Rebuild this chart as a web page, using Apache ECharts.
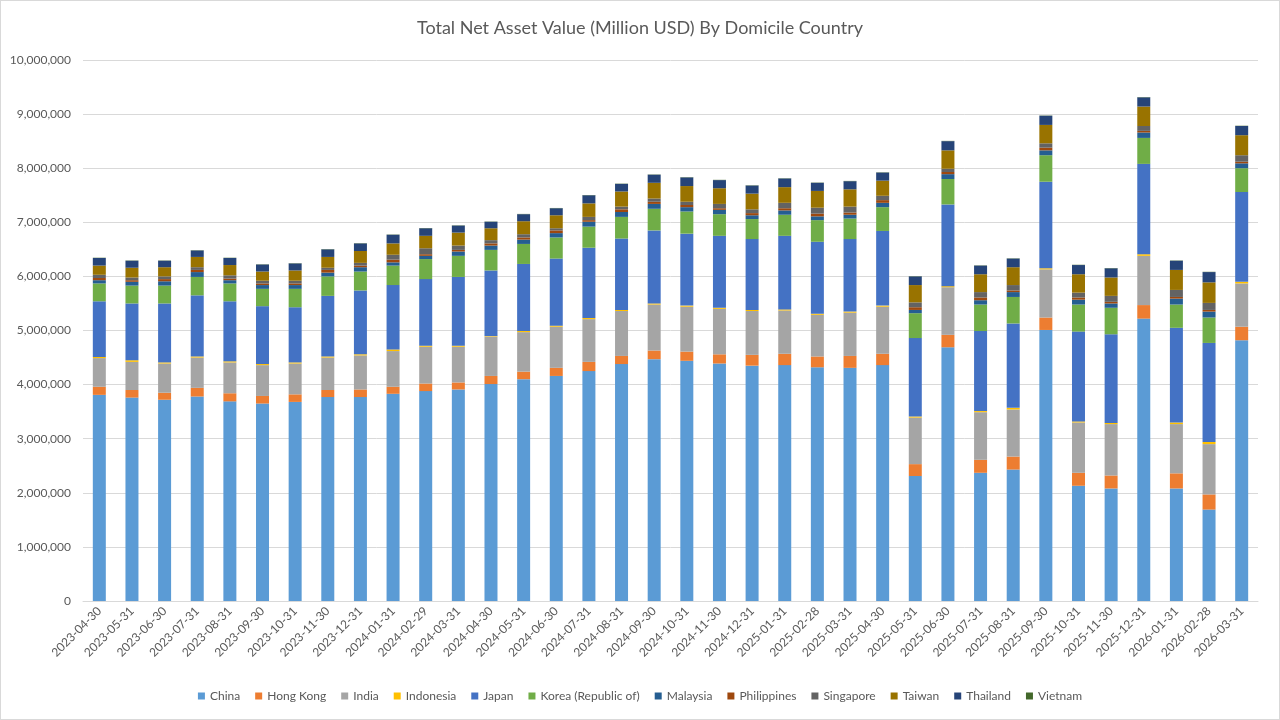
<!DOCTYPE html>
<html>
<head>
<meta charset="utf-8">
<title>Total Net Asset Value By Domicile Country</title>
<script src="https://cdn.jsdelivr.net/npm/echarts@6/dist/echarts.min.js"></script>
<style>
  html, body { margin: 0; padding: 0; background: #fff; }
  #main { width: 1278px; height: 718px; border: 1px solid #d9d9d9; }
</style>
</head>
<body>
<div id="main"></div>
<script>
var dates = ['2023-04-30', '2023-05-31', '2023-06-30', '2023-07-31', '2023-08-31', '2023-09-30',
  '2023-10-31', '2023-11-30', '2023-12-31', '2024-01-31', '2024-02-29', '2024-03-31',
  '2024-04-30', '2024-05-31', '2024-06-30', '2024-07-31', '2024-08-31', '2024-09-30',
  '2024-10-31', '2024-11-30', '2024-12-31', '2025-01-31', '2025-02-28', '2025-03-31',
  '2025-04-30', '2025-05-31', '2025-06-30', '2025-07-31', '2025-08-31', '2025-09-30',
  '2025-10-31', '2025-11-30', '2025-12-31', '2026-01-31', '2026-02-28', '2026-03-31']

var china = [3810000, 3760000, 3720000, 3780000, 3690000, 3650000, 3680000, 3770000, 3770000, 3830000, 3880000, 3910000,
  4010000, 4100000, 4160000, 4250000, 4380000, 4470000, 4440000, 4390000, 4350000, 4360000, 4320000, 4310000,
  4360000, 2310000, 4690000, 2370000, 2430000, 5010000, 2130000, 2080000, 5220000, 2080000, 1690000, 4820000]
var hongKong = [150000, 140000, 130000, 160000, 150000, 140000, 140000, 130000, 140000, 130000, 140000, 130000,
  150000, 140000, 150000, 170000, 150000, 160000, 170000, 170000, 200000, 210000, 200000, 220000,
  210000, 220000, 230000, 240000, 240000, 230000, 240000, 240000, 250000, 280000, 280000, 250000]
var india = [530000, 520000, 540000, 560000, 570000, 570000, 570000, 600000, 630000, 660000, 680000, 660000,
  730000, 730000, 760000, 790000, 830000, 850000, 830000, 840000, 810000, 800000, 770000, 800000,
  870000, 860000, 880000, 880000, 870000, 890000, 930000, 950000, 910000, 910000, 930000, 800000]
var indonesia = [20000, 30000, 20000, 20000, 20000, 20000, 20000, 20000, 20000, 30000, 20000, 20000,
  10000, 20000, 20000, 20000, 20000, 20000, 20000, 20000, 20000, 20000, 20000, 20000,
  20000, 20000, 20000, 20000, 30000, 20000, 20000, 20000, 30000, 30000, 40000, 30000]
var japan = [1030000, 1050000, 1090000, 1130000, 1110000, 1070000, 1020000, 1120000, 1180000, 1190000, 1230000, 1270000,
  1210000, 1240000, 1240000, 1300000, 1320000, 1350000, 1330000, 1330000, 1310000, 1360000, 1330000, 1340000,
  1380000, 1450000, 1510000, 1480000, 1560000, 1600000, 1660000, 1640000, 1670000, 1750000, 1830000, 1660000]
var korea = [330000, 330000, 330000, 340000, 330000, 320000, 340000, 360000, 350000, 360000, 370000, 390000,
  380000, 370000, 390000, 390000, 400000, 400000, 410000, 400000, 370000, 390000, 400000, 380000,
  440000, 460000, 470000, 490000, 490000, 490000, 500000, 490000, 480000, 430000, 470000, 440000]
var malaysia = [60000, 70000, 80000, 90000, 60000, 70000, 70000, 70000, 80000, 60000, 60000, 80000,
  80000, 80000, 80000, 90000, 90000, 90000, 80000, 80000, 70000, 80000, 70000, 70000,
  80000, 60000, 90000, 80000, 90000, 90000, 90000, 80000, 100000, 110000, 110000, 90000]
var philippines = [40000, 30000, 40000, 40000, 30000, 30000, 30000, 50000, 30000, 50000, 30000, 30000,
  40000, 40000, 50000, 30000, 50000, 40000, 40000, 30000, 40000, 40000, 50000, 40000,
  50000, 50000, 40000, 50000, 30000, 50000, 40000, 30000, 30000, 30000, 30000, 30000]
var singapore = [60000, 50000, 50000, 50000, 60000, 50000, 50000, 40000, 50000, 90000, 110000, 80000,
  60000, 60000, 40000, 60000, 50000, 60000, 60000, 80000, 70000, 100000, 110000, 110000,
  80000, 90000, 60000, 100000, 100000, 80000, 90000, 110000, 90000, 130000, 130000, 120000]
var taiwan = [170000, 180000, 170000, 190000, 190000, 170000, 190000, 200000, 220000, 210000, 230000, 240000,
  220000, 240000, 240000, 250000, 280000, 290000, 290000, 290000, 290000, 290000, 310000, 320000,
  280000, 320000, 340000, 330000, 330000, 340000, 340000, 340000, 360000, 370000, 380000, 370000]
var thailand = [140000, 130000, 120000, 120000, 130000, 130000, 130000, 140000, 140000, 160000, 140000, 130000,
  120000, 130000, 130000, 150000, 140000, 150000, 160000, 150000, 150000, 160000, 150000, 150000,
  150000, 160000, 170000, 160000, 160000, 170000, 170000, 170000, 170000, 170000, 190000, 170000]
var vietnam = [5000, 5000, 5000, 5000, 5000, 5000, 5000, 5000, 5000, 5000, 5000, 5000,
  5000, 5000, 5000, 5000, 5000, 5000, 5000, 5000, 5000, 5000, 5000, 5000,
  5000, 5000, 5000, 5000, 5000, 5000, 5000, 5000, 5000, 5000, 5000, 5000]

var countries = ['China', 'Hong Kong', 'India', 'Indonesia', 'Japan', 'Korea (Republic of)',
  'Malaysia', 'Philippines', 'Singapore', 'Taiwan', 'Thailand', 'Vietnam']
var values = [china, hongKong, india, indonesia, japan, korea,
  malaysia, philippines, singapore, taiwan, thailand, vietnam]
var colors = ['#5B9BD5', '#ED7D31', '#A5A5A5', '#FFC000', '#4472C4', '#70AD47',
  '#255E91', '#9E480E', '#636363', '#997300', '#264478', '#43682B']

var textColor = '#595959'
var fontName = 'Lato, "Open Sans", sans-serif'

var myChart = echarts.init(document.getElementById('main'))

var series = countries.map(function (name, i) {
  return {
    name: name,
    type: 'bar',
    stack: 'total',
    barWidth: 13,
    itemStyle: { color: colors[i] },
    data: values[i]
  }
})

var option = {
  animation: false,
  color: colors,
  textStyle: { fontFamily: fontName },
  title: {
    text: 'Total Net Asset Value (Million USD) By Domicile Country',
    left: 'center',
    top: 13,
    textStyle: { fontSize: 18, fontWeight: 'normal', color: textColor, fontFamily: fontName }
  },
  legend: {
    bottom: 12,
    left: 'center',
    itemWidth: 7,
    itemHeight: 7,
    itemGap: 15,
    icon: 'rect',
    textStyle: { fontSize: 12, color: textColor, fontFamily: fontName },
    data: countries
  },
  grid: {
    left: 82,
    right: 21,
    top: 59,
    bottom: 118
  },
  xAxis: {
    type: 'category',
    data: dates,
    axisLine: { lineStyle: { color: '#d9d9d9' } },
    axisTick: { show: false },
    axisLabel: {
      rotate: 45,
      interval: 0,
      fontSize: 12,
      color: textColor,
      margin: 8,
      fontFamily: fontName
    }
  },
  yAxis: {
    type: 'value',
    min: 0,
    max: 10000000,
    interval: 1000000,
    axisLine: { show: false },
    axisTick: { show: false },
    splitLine: { lineStyle: { color: '#d9d9d9' } },
    axisLabel: {
      fontSize: 12,
      color: textColor,
      margin: 12,
      fontFamily: fontName,
      formatter: function (v) { return v.toLocaleString('en-US') }
    }
  },
  series: series
}

option && myChart.setOption(option)
</script>
</body>
</html>
